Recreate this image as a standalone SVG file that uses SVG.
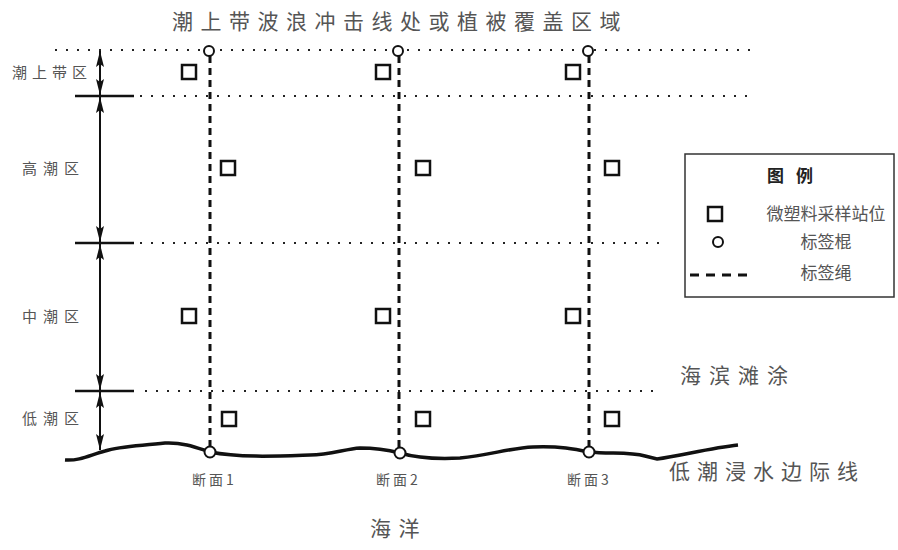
<svg xmlns="http://www.w3.org/2000/svg" width="898" height="550" viewBox="0 0 898 550">
<style>
text{font-family:"Noto Sans CJK SC","Liberation Serif",serif;fill:#555}
.dot{stroke:#222;stroke-width:2;stroke-dasharray:2 9;fill:none}
.rope{stroke:#111;stroke-width:3;stroke-dasharray:7 5;fill:none}
.tick{stroke:#111;stroke-width:2.5}
.arr{stroke:#111;stroke-width:2;marker-start:url(#ah);marker-end:url(#ah)}
.sq{fill:#fff;stroke:#111;stroke-width:2.5}
.post{fill:#fff;stroke:#111;stroke-width:2}
.lbl{font-size:15px;letter-spacing:5px}
.sec{font-size:14px;letter-spacing:3px}
.big{font-size:21px;letter-spacing:7.5px}
</style>
<defs>
<marker id="ah" viewBox="0 0 16 8" refX="16" refY="4" markerWidth="16" markerHeight="8" markerUnits="userSpaceOnUse" orient="auto-start-reverse">
<path d="M0,0 L16,4 L0,8 L3,4 Z" fill="#111"/>
</marker>
</defs>
<rect width="898" height="550" fill="#fff"/>
<g id="title"><text x="400" y="29" class="big" text-anchor="middle">潮上带波浪冲击线处或植被覆盖区域</text></g>
<g id="zones">
<line class="dot" x1="55" y1="50" x2="752" y2="50"/>
<line class="dot" x1="140" y1="96" x2="752" y2="96"/>
<line class="dot" x1="140" y1="243" x2="660" y2="243"/>
<line class="dot" x1="145" y1="391" x2="660" y2="391"/>
<line class="tick" x1="75" y1="96" x2="134" y2="96"/>
<line class="tick" x1="75" y1="243" x2="134" y2="243"/>
<line class="tick" x1="75" y1="391" x2="134" y2="391"/>
</g>
<g id="connectors">
<line class="arr" x1="100" y1="51" x2="100" y2="95"/>
<line class="arr" x1="100" y1="97" x2="100" y2="242"/>
<line class="arr" x1="100" y1="244" x2="100" y2="390"/>
<line class="arr" x1="100" y1="392" x2="100" y2="450"/>
<line class="rope" x1="210" y1="56" x2="210" y2="447"/>
<line class="rope" x1="399" y1="56" x2="399" y2="448"/>
<line class="rope" x1="589" y1="56" x2="589" y2="447"/>
</g>
<g id="zone-labels">
<text x="12" y="78" class="lbl">潮上带区</text>
<text x="22" y="174" class="lbl" style="letter-spacing:6px">高潮区</text>
<text x="22" y="322" class="lbl" style="letter-spacing:6px">中潮区</text>
<text x="22" y="424" class="lbl" style="letter-spacing:6px">低潮区</text>
</g>
<g id="shoreline">
<path d="M65,460 C80,461 90,455 105,451 C120,446 140,446 165,443 C185,442 200,449 210,452 C240,458 280,456 310,455 C330,455 345,449 360,448 C380,448 392,451 400,453 C420,459 440,459 460,458 C490,455 510,448 533,447 C560,446 575,449 589,452 C610,454 630,452 645,456 L657,459 C680,456 710,448 738,445" fill="none" stroke="#111" stroke-width="3.5"/>
</g>
<g id="posts">
<circle class="post" cx="209" cy="51" r="5"/>
<circle class="post" cx="398" cy="51" r="5"/>
<circle class="post" cx="588" cy="51" r="5"/>
<circle class="post" cx="210" cy="452" r="5.5"/>
<circle class="post" cx="400" cy="453" r="5.5"/>
<circle class="post" cx="589" cy="452" r="5.5"/>
</g>
<g id="stations">
<rect class="sq" x="182" y="65" width="14" height="14"/>
<rect class="sq" x="376" y="65" width="14" height="14"/>
<rect class="sq" x="566" y="65" width="14" height="14"/>
<rect class="sq" x="221" y="161" width="14" height="14"/>
<rect class="sq" x="416" y="161" width="14" height="14"/>
<rect class="sq" x="605" y="161" width="14" height="14"/>
<rect class="sq" x="182" y="309" width="14" height="14"/>
<rect class="sq" x="376" y="309" width="14" height="14"/>
<rect class="sq" x="566" y="309" width="14" height="14"/>
<rect class="sq" x="222" y="412" width="14" height="14"/>
<rect class="sq" x="416" y="412" width="14" height="14"/>
<rect class="sq" x="605" y="412" width="14" height="14"/>
</g>
<g id="sections">
<text x="192" y="485" class="sec">断面1</text>
<text x="376" y="485" class="sec">断面2</text>
<text x="567" y="485" class="sec">断面3</text>
</g>
<g id="beach"><text x="680" y="383" class="big" style="letter-spacing:8px">海滨滩涂</text></g>
<g id="lowline"><text x="669" y="479" class="big" style="letter-spacing:7px">低潮浸水边际线</text></g>
<g id="ocean"><text x="370" y="536" class="big">海洋</text></g>
<g id="legend">
<rect x="685" y="154" width="209" height="143" fill="#fff" stroke="#333" stroke-width="1.5"/>
<text x="767" y="182" style="font-size:17px;font-weight:bold;letter-spacing:12px;fill:#222">图例</text>
<rect class="sq" x="708" y="207" width="14" height="14"/>
<text x="826" y="220" text-anchor="middle" style="font-size:17px">微塑料采样站位</text>
<circle class="post" cx="718" cy="242" r="5"/>
<text x="826" y="248" text-anchor="middle" style="font-size:17px">标签棍</text>
<line x1="690" y1="275" x2="747" y2="275" stroke="#111" stroke-width="3" stroke-dasharray="9 7"/>
<text x="826" y="279" text-anchor="middle" style="font-size:17px">标签绳</text>
</g>
</svg>
